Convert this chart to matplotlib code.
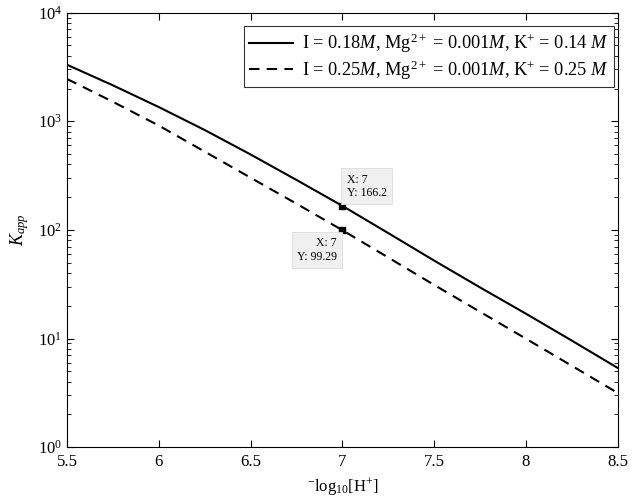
import numpy as np
import matplotlib.pyplot as plt

plt.rcParams['font.family'] = ['Liberation Serif', 'DejaVu Serif']
plt.rcParams['mathtext.fontset'] = 'custom'
plt.rcParams['mathtext.rm'] = 'Liberation Serif'
plt.rcParams['mathtext.it'] = 'Liberation Serif:italic'

# data (pH vs K_app)
ph = [5.5, 5.75, 6.0, 6.25, 6.5, 6.75, 7.0, 7.25, 7.5, 7.75, 8.0, 8.25, 8.5]
k_solid = [3310, 2140, 1350, 830, 494, 288, 166.2, 93.3, 52.1, 29.5, 16.9, 9.55, 5.35]
k_dashed = [2450, 1510, 912, 525, 302, 174, 99.29, 55.6, 31.1, 17.6, 9.95, 5.6, 3.15]

label_solid = r'I = 0.18$M$, Mg$^{2+}$ = 0.001$M$, K$^{+}$ = 0.14 $M$'
label_dashed = r'I = 0.25$M$, Mg$^{2+}$ = 0.001$M$, K$^{+}$ = 0.25 $M$'

tip_x = 7
tip_solid = 166.2
tip_dashed = 99.29

fig = plt.figure(figsize=(6.35, 5.03), dpi=100)
ax = fig.add_axes([0.1055, 0.111, 0.8675, 0.864])

ax.semilogy(ph, k_solid, '-', color='black', lw=1.5, label=label_solid)
ax.semilogy(ph, k_dashed, '--', color='black', lw=1.5, dashes=(5, 3.5), label=label_dashed)

# datatips
ax.plot([tip_x, tip_x], [tip_solid, tip_dashed], 's', color='black', ms=5, ls='none')
box = dict(boxstyle='square,pad=0.45', fc='#f0f0f0', ec='#dcdcdc', lw=0.6)
ax.annotate(f'X: {tip_x}\nY: {tip_solid}', (tip_x, tip_solid), xytext=(3, 5),
            textcoords='offset points', ha='left', va='bottom', fontsize=8.5,
            bbox=box, linespacing=1.15)
ax.annotate(f'X: {tip_x}\nY: {tip_dashed}', (tip_x, tip_dashed), xytext=(-4, -5),
            textcoords='offset points', ha='right', va='top', fontsize=8.5,
            bbox=box, linespacing=1.15, multialignment='right')

ax.set_xlim(5.5, 8.5)
ax.set_ylim(1, 1e4)
ax.set_xticks([5.5, 6, 6.5, 7, 7.5, 8, 8.5])
ax.set_xticklabels(['5.5', '6', '6.5', '7', '7.5', '8', '8.5'])
ax.tick_params(which='both', direction='in', top=True, right=True, labelsize=12)
ax.tick_params(which='major', length=5, width=0.8)
ax.tick_params(which='minor', length=3, width=0.6)
ax.tick_params(axis='x', pad=5)
for s in ax.spines.values():
    s.set_linewidth(0.8)

ax.set_xlabel(r'$^{-}\mathrm{log}_{10}[\mathrm{H}^{+}]$', fontsize=12, labelpad=4)
ax.set_ylabel(r'$K_{app}$', fontsize=13)
ax.yaxis.set_label_coords(-0.065, 0.5)

leg = ax.legend(loc='upper right', bbox_to_anchor=(0.993, 0.968), fontsize=13.2,
                frameon=True, fancybox=False, edgecolor='black', handlelength=2.4,
                borderaxespad=0, labelspacing=0.15, borderpad=0.3, handletextpad=0.45)
leg.get_frame().set_linewidth(0.8)

fig.savefig('out.png', dpi=100)
